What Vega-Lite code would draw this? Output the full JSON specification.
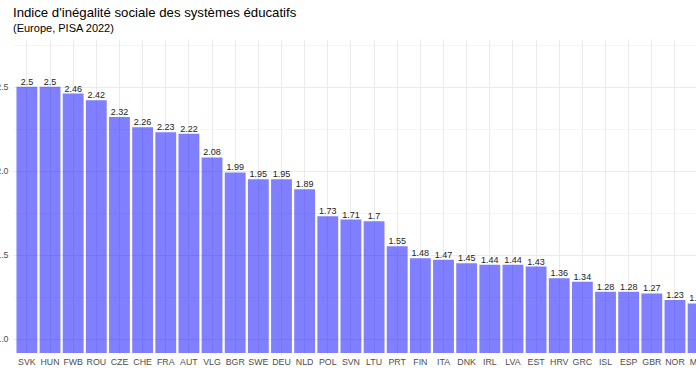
{
  "$schema": "https://vega.github.io/schema/vega-lite/v6.json",
  "width": 699,
  "height": 314,
  "autosize": {"type": "none"},
  "padding": {"left": 13, "right": -16, "top": 39, "bottom": 32},
  "background": "white",
  "title": {
    "text": "Indice d'inégalité sociale des systèmes éducatifs",
    "subtitle": "(Europe, PISA 2022)",
    "anchor": "start",
    "frame": "group",
    "font": "Liberation Sans",
    "fontSize": 13.2,
    "fontWeight": "normal",
    "color": "#000000",
    "subtitleFont": "Liberation Sans",
    "subtitleFontSize": 11,
    "subtitleColor": "#000000",
    "offset": 4,
    "subtitlePadding": 3
  },
  "config": {"view": {"stroke": null}},
  "data": {
    "values": [
      {"pays": "SVK", "indice": 2.5},
      {"pays": "HUN", "indice": 2.5},
      {"pays": "FWB", "indice": 2.46},
      {"pays": "ROU", "indice": 2.42},
      {"pays": "CZE", "indice": 2.32},
      {"pays": "CHE", "indice": 2.26},
      {"pays": "FRA", "indice": 2.23},
      {"pays": "AUT", "indice": 2.22},
      {"pays": "VLG", "indice": 2.08},
      {"pays": "BGR", "indice": 1.99},
      {"pays": "SWE", "indice": 1.95},
      {"pays": "DEU", "indice": 1.95},
      {"pays": "NLD", "indice": 1.89},
      {"pays": "POL", "indice": 1.73},
      {"pays": "SVN", "indice": 1.71},
      {"pays": "LTU", "indice": 1.7},
      {"pays": "PRT", "indice": 1.55},
      {"pays": "FIN", "indice": 1.48},
      {"pays": "ITA", "indice": 1.47},
      {"pays": "DNK", "indice": 1.45},
      {"pays": "IRL", "indice": 1.44},
      {"pays": "LVA", "indice": 1.44},
      {"pays": "EST", "indice": 1.43},
      {"pays": "HRV", "indice": 1.36},
      {"pays": "GRC", "indice": 1.34},
      {"pays": "ISL", "indice": 1.28},
      {"pays": "ESP", "indice": 1.28},
      {"pays": "GBR", "indice": 1.27},
      {"pays": "NOR", "indice": 1.23},
      {"pays": "MLT", "indice": 1.21}
    ]
  },
  "encoding": {
    "x": {
      "field": "pays",
      "type": "nominal",
      "sort": null,
      "scale": {"paddingInner": 0.1, "paddingOuter": 0.15},
      "axis": {
        "title": null,
        "labelAngle": 0,
        "labelFont": "Liberation Sans",
        "labelFontSize": 8.8,
        "labelColor": "#4d4d4d",
        "labelPadding": 4,
        "ticks": false,
        "domain": false,
        "grid": true,
        "gridColor": "#ebebeb",
        "gridWidth": 1
      }
    },
    "y": {
      "field": "indice",
      "type": "quantitative",
      "scale": {"domain": [0.915, 2.785], "zero": false, "nice": false},
      "axis": {
        "title": null,
        "values": [1, 1.25, 1.5, 1.75, 2, 2.25, 2.5, 2.75],
        "labelExpr": "datum.value % 0.5 == 0 ? format(datum.value, '.1f') : ''",
        "labelFont": "Liberation Sans",
        "labelFontSize": 8.8,
        "labelColor": "#4d4d4d",
        "labelPadding": 5,
        "ticks": false,
        "domain": false,
        "grid": true,
        "gridColor": "#ebebeb",
        "gridWidth": {"condition": {"test": "datum.value % 0.5 != 0", "value": 0.5}, "value": 1}
      }
    }
  },
  "layer": [
    {
      "mark": {"type": "bar", "fill": "blue", "fillOpacity": 0.5, "clip": true}
    },
    {
      "mark": {"type": "text", "font": "Liberation Sans", "fontSize": 9, "color": "#222222", "baseline": "alphabetic", "dy": -2},
      "encoding": {
        "text": {"field": "indice", "type": "quantitative", "format": ""}
      }
    }
  ]
}
